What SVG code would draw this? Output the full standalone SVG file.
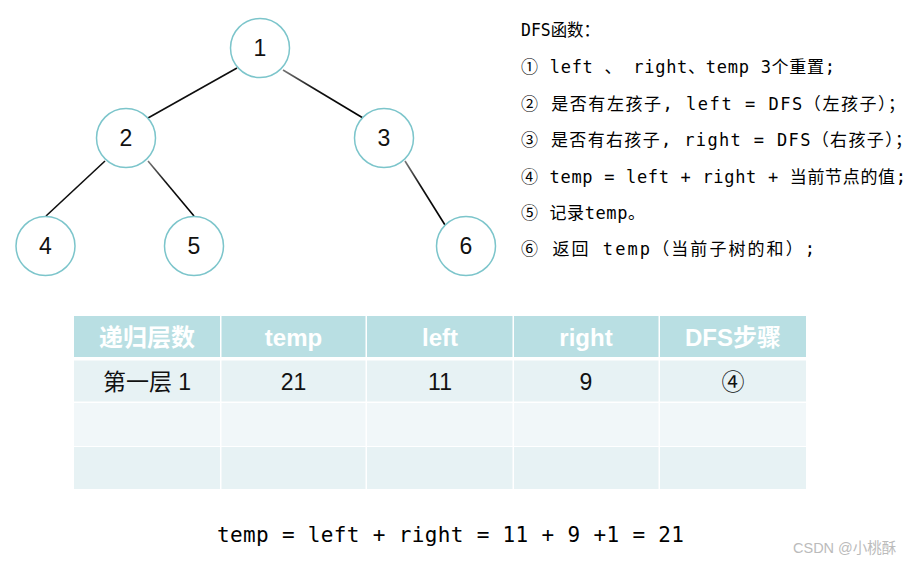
<svg xmlns="http://www.w3.org/2000/svg" width="923" height="563" viewBox="0 0 923 563">
<style>
.node circle{fill:#fff;stroke:#7cc5cb;stroke-width:1.5}
.node text{font-family:"Liberation Sans",Arial,sans-serif;font-size:23px;fill:#111;text-anchor:middle;dominant-baseline:central}
.edge{stroke:url(#eg);stroke-width:1.6;fill:none}
.code{font-family:"DejaVu Sans Mono","Noto Sans CJK SC",monospace;font-size:17px;fill:#000}
.hd{fill:#b9dfe3}
.r1{fill:#e7f2f4}
.r2{fill:#f1f7f9}
.th{font-family:"Liberation Sans","Noto Sans CJK SC",sans-serif;font-size:24px;font-weight:bold;fill:#fff;text-anchor:middle}
.td{font-family:"Liberation Sans","Noto Sans CJK SC",sans-serif;font-size:23px;fill:#111;text-anchor:middle}
</style>
<defs>
<linearGradient id="eg" x1="0" y1="0" x2="1" y2="1"><stop offset="0" stop-color="#777"/><stop offset="0.4" stop-color="#111"/><stop offset="1" stop-color="#000"/></linearGradient>
</defs>
<rect width="923" height="563" fill="#fff"/>
<g id="connectors">
<line class="edge" x1="237" y1="68" x2="148" y2="118"/>
<line class="edge" x1="283" y1="70" x2="363" y2="118"/>
<line class="edge" x1="105" y1="161" x2="46" y2="216"/>
<line class="edge" x1="148" y1="161" x2="194" y2="216"/>
<line class="edge" x1="405" y1="161" x2="445" y2="225"/>
</g>
<g id="n1" class="node"><circle cx="260" cy="48" r="29.5"/><text x="260" y="48">1</text></g>
<g id="n2" class="node"><circle cx="126" cy="138" r="29.5"/><text x="126" y="138">2</text></g>
<g id="n3" class="node"><circle cx="384" cy="138" r="29.5"/><text x="384" y="138">3</text></g>
<g id="n4" class="node"><circle cx="45.5" cy="246" r="29.5"/><text x="45.5" y="246">4</text></g>
<g id="n5" class="node"><circle cx="194" cy="246" r="29.5"/><text x="194" y="246">5</text></g>
<g id="n6" class="node"><circle cx="466" cy="246" r="29.5"/><text x="466" y="246">6</text></g>
<g id="notes">
<text class="code" x="521" y="36" textLength="79" lengthAdjust="spacingAndGlyphs">DFS函数：</text>
<text class="code" x="521" y="73" textLength="314" lengthAdjust="spacing">① left 、 right、temp 3个重置;</text>
<text class="code" x="521" y="110" textLength="384" lengthAdjust="spacing">② 是否有左孩子, left = DFS（左孩子）；</text>
<text class="code" x="521" y="146" textLength="391" lengthAdjust="spacing">③ 是否有右孩子, right = DFS（右孩子）；</text>
<text class="code" x="521" y="183" textLength="385" lengthAdjust="spacing">④ temp = left + right + 当前节点的值;</text>
<text class="code" x="521" y="219" textLength="124" lengthAdjust="spacing">⑤ 记录temp。</text>
<text class="code" x="521" y="255" textLength="294" lengthAdjust="spacing">⑥ 返回 temp（当前子树的和）;</text>
</g>
<g id="table">
<rect class="hd" x="74" y="316" width="146" height="41"/>
<rect class="hd" x="221.5" y="316" width="144" height="41"/>
<rect class="hd" x="367" y="316" width="145.5" height="41"/>
<rect class="hd" x="514" y="316" width="144.5" height="41"/>
<rect class="hd" x="660" y="316" width="146" height="41"/>
<rect class="r1" x="74" y="360.5" width="146" height="41"/>
<rect class="r1" x="221.5" y="360.5" width="144" height="41"/>
<rect class="r1" x="367" y="360.5" width="145.5" height="41"/>
<rect class="r1" x="514" y="360.5" width="144.5" height="41"/>
<rect class="r1" x="660" y="360.5" width="146" height="41"/>
<rect class="r2" x="74" y="403" width="146" height="43"/>
<rect class="r2" x="221.5" y="403" width="144" height="43"/>
<rect class="r2" x="367" y="403" width="145.5" height="43"/>
<rect class="r2" x="514" y="403" width="144.5" height="43"/>
<rect class="r2" x="660" y="403" width="146" height="43"/>
<rect class="r1" x="74" y="447" width="146" height="42"/>
<rect class="r1" x="221.5" y="447" width="144" height="42"/>
<rect class="r1" x="367" y="447" width="145.5" height="42"/>
<rect class="r1" x="514" y="447" width="144.5" height="42"/>
<rect class="r1" x="660" y="447" width="146" height="42"/>
<text class="th" x="147" y="346" font-weight="normal">递归层数</text>
<text class="th" x="293.5" y="346">temp</text>
<text class="th" x="440" y="346">left</text>
<text class="th" x="586" y="346">right</text>
<text class="th" x="733" y="346">DFS步骤</text>
<text class="td" x="147" y="390">第一层 1</text>
<text class="td" x="293.5" y="390">21</text>
<text class="td" x="440" y="390">11</text>
<text class="td" x="586" y="390">9</text>
<text class="td" x="733" y="390">④</text>
</g>
<text x="217" y="542" font-family="DejaVu Sans Mono,monospace" font-size="21" fill="#000" textLength="467" lengthAdjust="spacing">temp = left + right = 11 + 9 +1 = 21</text>
<text x="793" y="553" font-family="Liberation Sans,Noto Sans CJK SC,sans-serif" font-size="14.5" fill="#bbb">CSDN @小桃酥</text>
</svg>
